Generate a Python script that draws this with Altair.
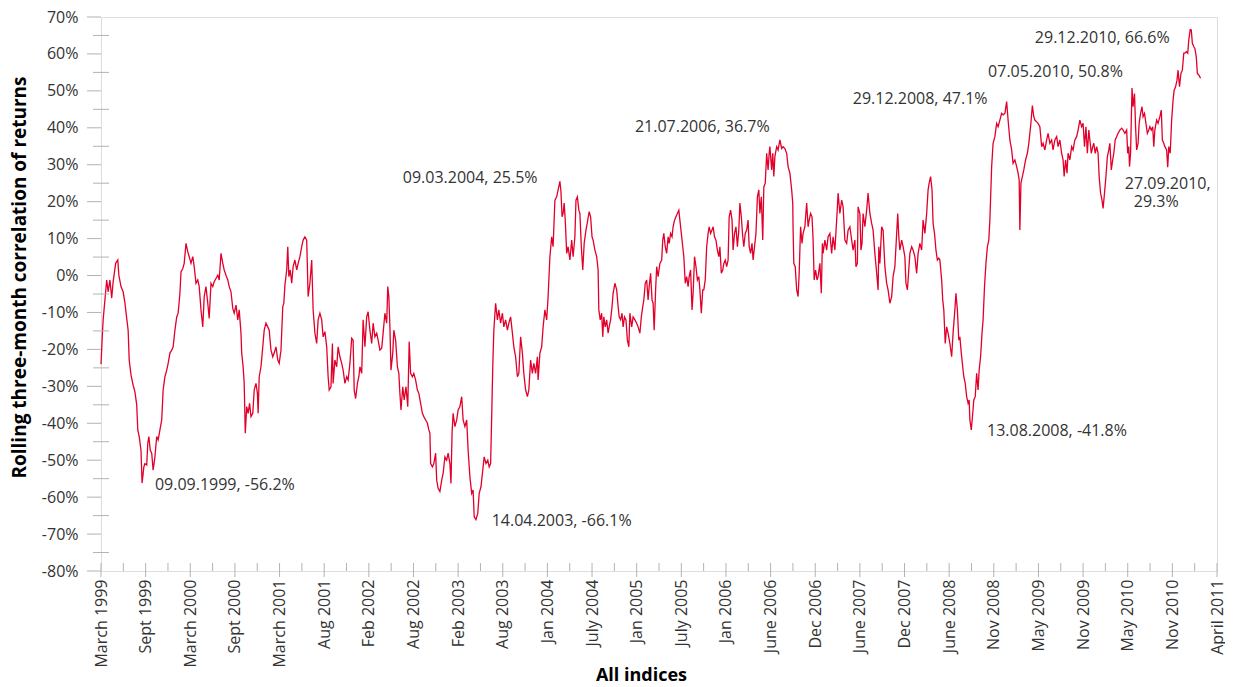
import altair as alt
import pandas as pd

# ---------------- data (trading-day index, correlation in %) ----------------
DAY_1 = [0, 4, 6, 11, 16, 20, 25, 30, 34, 41,
         47, 50, 56, 62, 67, 72, 76, 79, 84, 90,
         95, 100, 103, 107, 112, 115, 120, 123, 128, 131,
         134, 138, 142, 146, 151, 156, 160, 165, 170, 174,
         179, 184, 188, 193, 198, 202, 207, 212, 216, 221,
         224, 229, 233, 238, 243, 247, 252, 257, 261, 266,
         271, 275, 280, 285, 289, 294, 299, 303, 308, 313,
         317, 322, 327, 331, 336, 341, 345, 350, 355, 359,
         364, 369, 373, 378, 383, 387, 392, 394, 398, 401,
         404, 408, 412, 416, 420, 425, 429, 434, 438, 440,
         443, 448, 453, 457, 462, 467, 471, 476, 481, 485,
         490, 495, 499, 504, 509, 512, 515, 520, 523, 526,
         530, 534, 538, 543, 548, 552, 557, 562, 566, 571,
         576, 580, 585, 590, 594, 599, 604, 608]
CORR_1 = [-24.0, -15.6, -12.0, -6.6, -1.2, -4.4, -1.2, -6.1, -1.7, 3.3,
          4.2, 0.1, -3.0, -4.4, -7.4, -11.6, -14.8, -22.9, -26.9, -29.7,
          -31.5, -35.0, -41.8, -43.6, -47.3, -56.2, -51.8, -50.9, -51.3, -45.4,
          -43.6, -47.3, -48.1, -52.7, -49.1, -43.6, -44.5, -41.8, -39.1, -31.0,
          -27.4, -25.6, -23.8, -21.0, -20.2, -19.3, -14.8, -11.2, -10.2, -4.8,
          1.0, 1.9, 3.3, 8.7, 6.4, 5.1, 3.3, 5.1, 2.4, -2.1,
          -1.2, -3.0, -9.3, -13.9, -5.7, -3.0, -7.5, -11.6, -2.1, -3.0,
          -1.7, -0.8, 0.1, -1.2, 6.0, 3.3, 1.5, 0.1, -1.2, -3.0,
          -4.4, -8.9, -10.2, -8.0, -12.0, -9.3, -15.6, -21.0, -24.7, -29.2,
          -42.7, -35.5, -37.3, -34.6, -38.2, -37.3, -31.0, -29.2, -31.9, -37.3,
          -27.4, -24.7, -19.3, -14.8, -12.9, -13.9, -14.8, -20.2, -22.0, -21.0,
          -19.3, -22.9, -23.8, -20.2, -8.4, -7.5, -2.6, 1.5, 7.8, -0.3,
          1.5, -2.1, 2.4, 4.2, 1.5, 3.3, 5.1, 7.8, 9.6, 10.5,
          9.6, -5.7, -2.1, 4.2, -9.3, -15.6, -18.4, -12.0]

DAY_2 = [613, 618, 622, 627, 632, 636, 639, 644, 648, 650,
         655, 660, 664, 669, 674, 678, 683, 688, 692, 697,
         702, 706, 709, 713, 718, 722, 725, 730, 734, 739,
         744, 748, 753, 758, 762, 767, 772, 776, 781, 786,
         790, 795, 800, 803, 806, 809, 812, 817, 820, 825,
         830, 834, 837, 840, 845, 849, 854, 859, 863, 867,
         872, 876, 881, 886, 890, 895, 900, 904, 909, 914,
         918, 921, 923, 928, 932, 937, 940, 944, 949, 954,
         958, 963, 968, 972, 977, 980, 983, 986, 991, 996,
         1000, 1005, 1010, 1014, 1019, 1024, 1028, 1033, 1038, 1042,
         1045, 1050, 1055, 1059, 1064, 1069, 1073, 1078, 1083, 1087,
         1091, 1094, 1097, 1100, 1105, 1110, 1114, 1119, 1124, 1128,
         1133, 1138, 1142, 1147, 1152, 1156, 1161, 1166, 1170, 1175,
         1180, 1184, 1189, 1194, 1198, 1203, 1208, 1212, 1217, 1222,
         1224]
CORR_2 = [-10.2, -12.0, -16.6, -15.2, -19.3, -27.4, -31.0, -30.1, -18.4, -29.2,
          -22.9, -24.7, -19.3, -22.0, -23.8, -25.6, -29.2, -27.4, -28.3, -23.8,
          -17.0, -17.5, -31.0, -33.3, -29.2, -27.4, -24.7, -26.5, -12.0, -19.3,
          -11.2, -9.8, -14.8, -18.4, -12.9, -16.6, -15.6, -17.5, -20.2, -19.7,
          -15.6, -10.2, -12.9, -3.0, -5.7, -13.9, -25.6, -21.0, -14.8, -17.5,
          -24.7, -26.5, -31.9, -36.4, -30.1, -33.7, -30.1, -35.5, -17.9, -26.5,
          -27.4, -26.5, -28.3, -31.0, -31.9, -34.6, -37.3, -38.2, -39.1, -40.0,
          -41.8, -42.7, -50.9, -51.8, -50.9, -48.1, -55.4, -57.6, -58.5, -55.4,
          -53.6, -49.1, -50.0, -48.1, -50.9, -56.3, -42.7, -37.3, -40.9, -39.1,
          -36.4, -35.5, -32.8, -39.1, -40.9, -39.1, -47.3, -54.5, -59.0, -58.1,
          -65.3, -66.1, -64.4, -59.0, -57.2, -52.7, -49.1, -50.9, -50.0, -51.8,
          -50.9, -38.2, -24.7, -14.8, -7.5, -12.0, -9.3, -12.9, -10.2, -13.9,
          -12.0, -14.8, -12.9, -11.2, -15.6, -19.3, -22.0, -27.4, -26.5, -16.6,
          -21.0, -26.5, -31.0, -32.8, -31.0, -22.9, -26.5, -23.8, -26.5, -22.0,
          -28.3]

DAY_3 = [1229, 1234, 1238, 1243, 1248, 1252, 1257, 1262, 1266, 1271,
         1276, 1280, 1285, 1288, 1291, 1294, 1297, 1300, 1304, 1308,
         1313, 1318, 1322, 1327, 1330, 1334, 1338, 1341, 1345, 1349,
         1353, 1358, 1363, 1367, 1371, 1375, 1378, 1383, 1388, 1392,
         1394, 1398, 1402, 1405, 1408, 1412, 1416, 1420, 1423, 1427,
         1431, 1434, 1439, 1444, 1448, 1451, 1455, 1459, 1462, 1466,
         1470, 1474, 1478, 1481, 1486, 1490, 1495, 1500, 1504, 1509,
         1513, 1517, 1520, 1524, 1528, 1532, 1535, 1539, 1543, 1546,
         1549, 1553, 1556, 1560, 1565, 1570, 1573, 1576, 1580, 1584,
         1588, 1591, 1595, 1599, 1602, 1606, 1610, 1614, 1618, 1621,
         1625, 1629, 1632, 1636, 1640, 1644, 1647, 1651, 1655, 1658,
         1662, 1666, 1670, 1674, 1677, 1681, 1685, 1688, 1692, 1696,
         1700, 1703, 1707, 1711, 1714, 1718, 1722, 1726, 1730, 1733,
         1737, 1741, 1744, 1748, 1752, 1756, 1759, 1763, 1767, 1770,
         1774, 1778, 1782, 1786, 1789, 1793, 1797, 1800, 1804, 1808,
         1812, 1815, 1819, 1823, 1826, 1830, 1834, 1838, 1842, 1845,
         1849, 1853, 1856, 1860, 1864, 1868, 1871]
CORR_3 = [-21.0, -19.3, -13.9, -9.3, -12.0, -5.7, 5.1, 10.5, 7.8, 20.4,
          21.3, 23.2, 25.5, 22.7, 15.9, 16.8, 19.6, 15.0, 6.0, 7.8,
          4.2, 9.6, 5.1, 10.5, 20.4, 21.3, 17.7, 16.8, 7.8, 1.5,
          8.7, 12.3, 15.0, 17.3, 15.9, 10.5, 9.6, 6.9, 5.1, 1.5,
          -9.3, -12.0, -10.2, -16.6, -11.2, -13.9, -12.0, -15.6, -13.9, -12.0,
          -8.4, -4.8, -2.1, -3.9, -8.4, -11.2, -12.0, -10.2, -13.9, -11.2,
          -12.0, -17.5, -19.3, -10.2, -13.9, -11.2, -12.0, -12.9, -13.9, -15.6,
          -11.2, -8.4, -6.6, -2.1, -1.2, -6.6, -3.0, 0.6, -6.6, -7.5,
          -14.8, -3.9, 2.4, -0.3, 3.3, 4.2, 9.6, 11.4, 7.8, 6.0,
          10.5, 8.7, 11.4, 10.5, 13.2, 15.0, 15.9, 16.8, 17.7, 15.0,
          11.4, 7.8, 5.1, -2.1, -0.3, -3.0, -0.3, 1.5, -9.3, -4.8,
          5.1, 2.4, -1.2, -0.3, -3.9, -10.2, -3.9, -3.9, -1.2, 7.8,
          11.4, 13.2, 11.4, 12.3, 13.2, 10.5, 9.6, 6.9, 5.1, 7.8,
          0.6, 1.5, 3.3, 4.2, 2.4, 4.2, 15.9, 17.7, 15.0, 6.9,
          11.4, 13.2, 7.8, 12.3, 19.6, 15.9, 10.5, 7.8, 11.4, 12.3,
          15.0, 7.8, 6.0, 8.7, 4.2, 7.8, 11.4, 21.3, 23.2, 16.8,
          21.3, 9.6, 24.0, 25.0, 33.1, 28.6, 33.1]

DAY_4 = [1873, 1878, 1881, 1884, 1887, 1892, 1896, 1901, 1906, 1910,
         1915, 1920, 1924, 1929, 1934, 1937, 1938, 1940, 1944, 1948,
         1952, 1955, 1959, 1963, 1966, 1971, 1976, 1980, 1983, 1987,
         1991, 1994, 1997, 2001, 2005, 2008, 2013, 2017, 2020, 2022,
         2027, 2032, 2036, 2041, 2046, 2050, 2055, 2060, 2064, 2069,
         2074, 2078, 2083, 2088, 2092, 2097, 2102, 2106, 2111, 2114,
         2118, 2120, 2125, 2128, 2131, 2134, 2139, 2144, 2148, 2153,
         2158, 2162, 2167, 2172, 2176, 2178, 2181, 2186, 2190, 2195,
         2200, 2204, 2209, 2214, 2218, 2223, 2228, 2231, 2234, 2237,
         2242, 2246, 2251, 2254, 2258, 2260, 2265, 2270, 2274, 2279,
         2284, 2288, 2293, 2298, 2302, 2307, 2312, 2316, 2319, 2323,
         2327, 2330, 2334, 2338, 2342, 2346, 2349, 2354, 2357, 2360,
         2364, 2368, 2372, 2377, 2382, 2386, 2391, 2394, 2398, 2402,
         2405, 2409, 2413, 2416, 2420, 2424, 2428, 2431, 2433, 2437,
         2441, 2444, 2448, 2452, 2456, 2459, 2463, 2467, 2470, 2474,
         2478, 2482, 2486]
CORR_4 = [34.9, 28.6, 33.1, 26.8, 32.2, 34.9, 34.0, 36.7, 34.4, 34.9,
          34.4, 33.1, 29.5, 27.7, 23.2, 19.6, 12.3, 3.3, 2.4, -3.9,
          -5.7, 0.6, 13.2, 8.7, 11.4, 13.2, 19.6, 13.2, 15.0, 16.8,
          15.9, 9.6, -1.2, 1.5, -1.2, -0.3, 3.3, -4.8, 8.7, 6.0,
          9.6, 6.9, 10.5, 11.4, 6.0, 10.5, 6.9, 15.0, 22.3, 16.8,
          20.4, 18.6, 9.6, 8.7, 12.3, 13.2, 9.6, 6.9, 9.6, 2.4,
          3.3, 18.6, 16.8, 6.9, 8.7, 16.8, 13.2, 17.7, 22.3, 16.8,
          14.1, 12.3, 6.0, 0.6, -3.9, 7.8, 3.3, 13.2, 12.3, 2.4,
          -2.1, -3.9, -7.5, -5.7, -0.3, 2.4, 11.4, 16.8, 10.5, 6.9,
          9.6, 7.8, 5.1, -2.1, -3.9, -1.2, 6.0, 7.8, 6.9, 5.1,
          0.6, 6.0, 8.7, 6.9, 15.0, 11.4, 16.8, 23.2, 25.0, 26.8,
          23.2, 14.1, 11.4, 6.9, 4.2, 4.7, 4.2, -1.2, -6.6, -9.3,
          -18.4, -13.9, -15.6, -18.4, -22.0, -15.6, -9.3, -4.8, -9.3, -17.5,
          -16.6, -21.0, -24.7, -27.4, -29.2, -32.8, -34.6, -33.7, -39.1, -41.8,
          -37.3, -33.7, -32.8, -26.5, -31.0, -25.6, -22.0, -15.6, -12.0, -3.0,
          3.3, 7.8, 9.6]

DAY_5 = [2489, 2494, 2498, 2503, 2508, 2512, 2517, 2522, 2526, 2531,
         2536, 2540, 2545, 2550, 2554, 2559, 2564, 2568, 2571, 2573,
         2576, 2580, 2584, 2589, 2594, 2598, 2603, 2608, 2612, 2615,
         2620, 2624, 2629, 2634, 2638, 2643, 2648, 2652, 2657, 2662,
         2666, 2671, 2676, 2680, 2685, 2690, 2694, 2697, 2701, 2705,
         2708, 2713, 2718, 2722, 2727, 2732, 2736, 2741, 2746, 2750,
         2754, 2758, 2762, 2766, 2769, 2773, 2777, 2780, 2784, 2788,
         2792, 2795, 2799, 2803, 2806, 2810, 2814, 2818, 2822, 2825,
         2829, 2833, 2836, 2840, 2844, 2848, 2853, 2858, 2862, 2867,
         2872, 2875, 2878, 2880, 2883, 2887, 2890, 2894, 2897, 2900,
         2904, 2907, 2911, 2915, 2918, 2922, 2926, 2930, 2934, 2937,
         2941, 2945, 2948, 2951, 2956, 2960, 2965, 2969, 2972, 2976,
         2979, 2984, 2987, 2990, 2994, 2998, 3002, 3005, 3009, 3013,
         3016, 3020, 3024, 3028, 3032, 3035, 3039, 3043, 3046, 3050,
         3053, 3056, 3060, 3063, 3067, 3070, 3074, 3079]
CORR_5 = [15.0, 29.5, 35.8, 37.6, 41.2, 40.3, 42.1, 43.9, 43.5, 43.9,
          47.1, 42.1, 36.7, 34.0, 30.4, 31.3, 29.5, 27.7, 25.9, 12.3,
          25.0, 26.8, 28.6, 31.3, 33.1, 35.8, 40.3, 46.0, 43.0, 42.1,
          41.6, 41.2, 40.3, 34.9, 35.8, 34.0, 36.7, 38.5, 35.8, 36.7,
          34.0, 36.7, 37.6, 34.9, 36.7, 33.1, 31.3, 26.8, 31.3, 27.7,
          33.1, 31.3, 34.9, 34.0, 36.7, 37.6, 39.4, 42.1, 40.3, 41.2,
          34.9, 40.3, 33.1, 39.4, 36.7, 33.1, 34.9, 35.8, 33.1, 34.9,
          33.1, 26.8, 22.3, 20.4, 18.2, 22.3, 26.8, 32.2, 34.0, 35.8,
          28.6, 31.3, 33.1, 36.7, 37.6, 38.5, 39.4, 39.9, 39.4, 38.5,
          39.4, 33.1, 34.9, 29.5, 33.1, 50.8, 45.7, 49.3, 40.3, 34.0,
          35.8, 41.2, 43.9, 45.7, 43.0, 43.9, 41.2, 38.5, 39.4, 40.3,
          39.4, 40.3, 34.9, 39.4, 42.1, 41.2, 43.0, 44.8, 36.7, 35.8,
          34.9, 34.0, 29.3, 34.9, 33.1, 42.1, 47.5, 50.2, 51.1, 52.9,
          55.6, 51.1, 54.7, 55.6, 60.2, 60.2, 60.6, 60.2, 63.8, 66.6,
          66.5, 62.9, 62.0, 61.5, 59.2, 54.7, 54.3, 53.4]

TICK_LABELS = ["March 1999", "Sept 1999", "March 2000", "Sept 2000", "March 2001",
               "Aug 2001", "Feb 2002", "Aug 2002", "Feb 2003", "Aug 2003",
               "Jan 2004", "July 2004", "Jan 2005", "July 2005", "Jan 2006",
               "June 2006", "Dec 2006", "June 2007", "Dec 2007", "June 2008",
               "Nov 2008", "May 2009", "Nov 2009", "May 2010", "Nov 2010",
               "April 2011"]
DAYS_PER_LABEL = 125
Y_TICKS = list(range(-80, 71, 10))
Y_MINOR = list(range(-75, 70, 10))

ANN_TEXT = ["09.09.1999, -56.2%", "14.04.2003, -66.1%", "09.03.2004, 25.5%",
            "21.07.2006, 36.7%", "29.12.2008, 47.1%", "07.05.2010, 50.8%",
            "29.12.2010, 66.6%", "13.08.2008, -41.8%", "27.09.2010,", "29.3%"]
ANN_DAY = [151, 1094, 845, 1495, 2105, 2484, 2615, 2481, 2867, 2892]
ANN_VALUE = [-56.7, -66.5, 26.5, 40.1, 47.7, 55.0, 64.4, -42.1, 24.8, 19.8]

# ---------------- styling ----------------
W, H = 1116, 554
GRAY = "#b3b3b3"
RED = "#e2002b"
FONT = "Open Sans"
TXT = "#333333"

df = pd.DataFrame({"day": DAY_1 + DAY_2 + DAY_3 + DAY_4 + DAY_5,
                   "corr": CORR_1 + CORR_2 + CORR_3 + CORR_4 + CORR_5})
n_int = len(TICK_LABELS) - 1
major_days = [i * DAYS_PER_LABEL for i in range(n_int + 1)]
minor_days = [i * DAYS_PER_LABEL + DAYS_PER_LABEL / 2 for i in range(n_int)]

xscale = alt.Scale(domain=[0, n_int * DAYS_PER_LABEL], nice=False, zero=False)
yscale = alt.Scale(domain=[-80, 70], nice=False, zero=False)

label_expr = "[" + ",".join("'" + s + "'" for s in TICK_LABELS) + \
    "][round(datum.value / " + str(DAYS_PER_LABEL) + ")]"

x_axis = alt.Axis(values=major_days, labelExpr=label_expr, labelAngle=270,
                  labelAlign="right", labelBaseline="middle",
                  ticks=False, tickSize=0, domain=False, grid=False,
                  labelPadding=8, labelFont=FONT, labelFontSize=16, labelColor=TXT,
                  labelFlush=False, labelOverlap=False,
                  title="All indices", titleFont=FONT, titleFontSize=18,
                  titleFontWeight="bold", titleColor="#000000",
                  titleX=540, titleY=104, titleAlign="center", titleBaseline="middle",
                  titleAngle=0)
y_axis = alt.Axis(values=Y_TICKS, labelExpr="datum.value + '%'",
                  ticks=False, tickSize=0, domain=False, grid=False,
                  labelPadding=23, labelFont=FONT, labelFontSize=16, labelColor=TXT,
                  labelFlush=False, labelOverlap=False,
                  title="Rolling three-month correlation of returns", titleFont=FONT,
                  titleFontSize=19, titleFontWeight="bold", titleColor="#000000",
                  titleX=-82, titleY=260, titleAngle=270, titleAlign="center",
                  titleBaseline="middle")

line = alt.Chart(df).mark_line(color=RED, strokeWidth=1.3).encode(
    x=alt.X("day:Q", scale=xscale, axis=x_axis),
    y=alt.Y("corr:Q", scale=yscale, axis=y_axis),
)

xmaj = alt.Chart(pd.DataFrame({"day": major_days})).mark_rule(color=GRAY, strokeWidth=1).encode(
    x=alt.X("day:Q", scale=xscale, axis=None), y=alt.value(H - 8), y2=alt.value(H + 6))
xmin = alt.Chart(pd.DataFrame({"day": minor_days})).mark_rule(color=GRAY, strokeWidth=1).encode(
    x=alt.X("day:Q", scale=xscale, axis=None), y=alt.value(H - 8), y2=alt.value(H))
ymaj = alt.Chart(pd.DataFrame({"corr": Y_TICKS})).mark_rule(color=GRAY, strokeWidth=1).encode(
    y=alt.Y("corr:Q", scale=yscale, axis=None), x=alt.value(-14), x2=alt.value(0))
ymin = alt.Chart(pd.DataFrame({"corr": Y_MINOR})).mark_rule(color=GRAY, strokeWidth=1).encode(
    y=alt.Y("corr:Q", scale=yscale, axis=None), x=alt.value(-8), x2=alt.value(8))

ann = alt.Chart(pd.DataFrame({"day": ANN_DAY, "corr": ANN_VALUE, "label": ANN_TEXT})).mark_text(
    align="left", baseline="middle", font=FONT, fontSize=16, color=TXT).encode(
    x=alt.X("day:Q", scale=xscale, axis=None), y=alt.Y("corr:Q", scale=yscale, axis=None),
    text="label:N")

chart = alt.layer(line, xmaj, xmin, ymaj, ymin, ann).resolve_axis(
    x="independent", y="independent"
).properties(
    width=W, height=H,
    autosize=alt.AutoSizeParams(type="none"),
    padding={"left": 93, "top": 9, "right": 8, "bottom": 116},
).configure_view(stroke=GRAY, strokeWidth=1).configure(background="white")

chart.save("out.html", embed_options={"renderer": "svg", "actions": False})
